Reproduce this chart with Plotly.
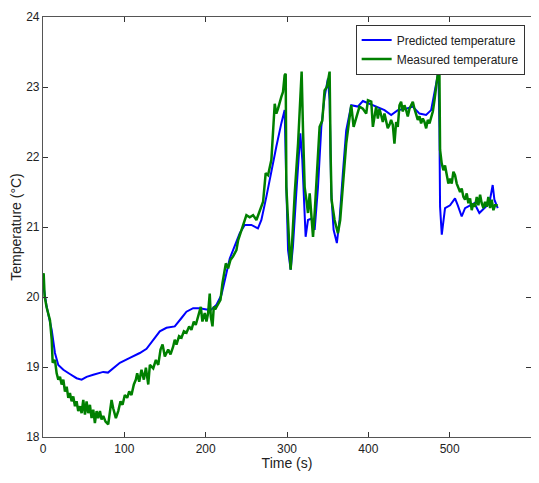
import plotly.graph_objects as go

# Predicted temperature (blue)
pred_t = [0, 2, 4.5, 10.7, 14.7, 18.8, 25, 33, 41.3, 47.5, 53.6, 61.8, 68, 74, 79.9, 86.3,
          94.5, 106.8, 119, 127.3, 135.4, 143.6, 151.8, 162, 170.3, 176.4, 184.6, 192.8,
          201, 207, 213.3, 219.4, 225.5, 229.6, 233.7, 237.8, 241.9, 248, 256.2, 264.3,
          268.5, 274.6, 280.8, 286.9, 293, 297.1, 299.2, 301.3, 304.5, 307.3, 311.4,
          316.4, 318.8, 321.7, 322.9, 325.8, 329.9, 334, 338.1, 342.2, 346.2, 350.3,
          352.4, 354.4, 357.3, 361.3, 364.6, 368.7, 372.8, 379, 387.1, 393.3, 401.5,
          409.7, 419.9, 428.1, 436.2, 446.5, 454.6, 462.9, 471, 477.2, 481.3, 484.2,
          486.2, 487.4, 488.2, 490.3, 494.3, 500.5, 506.6, 510, 514.8, 518.9, 522.2,
          530.4, 536.5, 542.7, 548.8, 552.9, 555, 559.1]
pred_T = [20.2, 20.05, 19.86, 19.53, 19.20, 19.03, 18.96, 18.90, 18.84, 18.82, 18.86,
          18.89, 18.91, 18.93, 18.92, 18.98, 19.06, 19.13, 19.20, 19.26, 19.39, 19.51,
          19.56, 19.58, 19.70, 19.79, 19.84, 19.84, 19.82, 19.82, 19.89, 20.03, 20.34,
          20.55, 20.67, 20.79, 20.91, 21.03, 21.03, 20.98, 21.10, 21.43, 21.81, 22.15,
          22.48, 22.67, 21.57, 20.67, 20.39, 20.72, 21.48, 22.34, 21.96, 21.10, 20.86,
          21.10, 21.12, 20.96, 21.57, 22.43, 22.86, 23.12, 22.81, 21.48, 20.96, 20.77,
          21.10, 21.77, 22.38, 22.74, 22.72, 22.80, 22.76, 22.72, 22.67, 22.60, 22.67,
          22.69, 22.72, 22.62, 22.60, 22.67, 22.95, 23.12, 23.22, 22.43, 21.29, 20.89,
          21.27, 21.31, 21.41, 21.31, 21.15, 21.27, 21.29, 21.34, 21.20, 21.27, 21.34,
          21.60, 21.39, 21.27]

# Measured temperature (green)
meas_t = [0, 0.8, 2, 4.5, 8.6,
          10.7, 11.9, 14.7, 16.8, 18.8, 20.9, 22.9, 25, 27, 29.1, 31.1, 33.1, 35.2, 37.2,
          39.3, 41.3, 43.3, 45.4, 47.5, 49.5, 51.6, 53.6, 55.6, 57.7, 59.7, 61.8, 63.8,
          65.9, 67.9, 70, 72, 74.1, 76.9, 80.2, 82.3, 84.3, 86.3, 89.6, 92.5, 95.3, 97.8,
          100.6, 103.5, 106, 108.8, 111.7, 114.2, 115.8, 118.3, 121.1, 124, 126.5, 129.4,
          130.5,
          131.4, 135.5, 138.8, 141.7, 144.5, 147, 149.8, 153.9, 156.8, 160, 162, 164.1,
          167.3, 170.3, 173.2, 176.4, 179.7, 182.5, 185.4, 187.8, 190.7, 194, 196, 198.9,
          201, 203, 205, 206.3, 208.4, 210, 212.5, 215.3, 218.2, 220.7, 222.3, 224.8,
          227.6, 230.5, 233.7, 237.8,
          239.9, 244, 248, 250.1, 254.2, 258.3, 262.4, 266.5, 270.6, 273.8, 276.7, 280.8,
          282.8, 284.9, 286.9, 289, 293, 295.1, 297.1, 298.4, 299.2, 301.3, 303.3, 304.5,
          306.6, 309.5, 313.6, 316.4, 318, 319.7, 321.7, 323.8, 325.8, 327.9, 329.9, 332,
          334, 336.9, 340.1, 343.4, 346.2, 349.1, 352.4, 353.6, 354.8, 358.5, 362.6,
          365.4, 368.7, 372.8, 376, 379, 381.9, 385, 389.1, 393.3, 397.4, 399.5, 403.6,
          405.6,
          409.6, 411.7, 413.7, 415.7, 417.8, 419.8, 421.9, 423.9, 426, 428, 430.1, 432.1,
          434.2, 436.2, 438.3, 440.3, 442.4, 444.4, 446.5, 448.5, 450.6, 452.6, 454.7,
          456.7, 458.8, 460.8, 462.9, 464.9, 467, 469, 471.1, 473.1, 475.2, 477.2, 479.3,
          481.3, 483.4, 484.2, 486.2, 487.4,
          488.2, 490.2, 492.3, 494.3, 496.4, 498.4, 500.5, 502.5, 504.6, 506.6, 508.7,
          510.7, 512.8, 514.8, 516.9, 518.9, 521, 523, 525.1, 527.1, 529.2, 531.2, 533.3,
          535.3, 537.4, 539.4, 541.5, 543.5, 545.6, 547.6, 549.7, 551.7, 553.8, 555.8,
          559.1]
meas_T = [20.24, 20.34, 20.01, 19.85, 19.67,
          19.39, 19.06, 19.10, 18.91, 18.82, 18.86, 18.75, 18.82, 18.65, 18.72, 18.56,
          18.63, 18.51, 18.58, 18.44, 18.51, 18.37, 18.44, 18.34, 18.53, 18.32, 18.51,
          18.34, 18.46, 18.27, 18.39, 18.20, 18.37, 18.27, 18.37, 18.25, 18.30, 18.22,
          18.18, 18.39, 18.53, 18.41, 18.27, 18.37, 18.51, 18.46, 18.60, 18.56, 18.65,
          18.60, 18.75, 18.82, 18.91, 18.79, 18.96, 18.82, 18.99, 18.75, 18.94,
          19.03, 18.98, 19.10, 19.03, 19.25, 19.32, 19.15, 19.25, 19.18, 19.29, 19.39,
          19.32, 19.44, 19.42, 19.51, 19.49, 19.58, 19.53, 19.65, 19.60, 19.72, 19.86,
          19.65, 19.77, 19.65, 19.77, 20.05, 19.72, 19.58, 19.86, 19.84, 19.91, 19.96,
          20.20, 20.34, 20.48, 20.41, 20.53, 20.58, 20.67,
          20.81, 20.96, 21.10, 21.17, 21.14, 21.17, 21.10, 21.24, 21.36, 21.77, 21.74,
          21.96, 22.29, 22.76, 22.62, 22.69, 22.86, 22.93, 23.17, 23.19, 21.57, 21.00,
          20.62, 20.39, 20.91, 21.48, 22.19, 23.00, 23.22, 22.38, 21.57, 21.39, 21.20,
          21.48, 21.15, 20.86, 21.20, 21.77, 22.43, 22.52, 22.95, 23.00, 23.22, 22.05,
          21.39, 21.10, 20.91, 21.10, 21.57, 22.19, 22.48, 22.74, 22.43, 22.57, 22.72,
          22.69, 22.62, 22.81, 22.79, 22.43,
          22.72, 22.55, 22.69, 22.60, 22.50, 22.62, 22.53, 22.41, 22.46, 22.53, 22.46,
          22.19, 22.50, 22.43, 22.74, 22.79, 22.65, 22.74, 22.67, 22.58, 22.69, 22.74,
          22.79, 22.69, 22.62, 22.53, 22.58, 22.48, 22.55, 22.50, 22.41, 22.53, 22.48,
          22.58, 22.65, 22.81, 22.98, 23.05, 23.26, 23.19,
          22.10, 21.91, 21.81, 21.88, 21.77, 21.62, 21.69, 21.62, 21.79, 21.74, 21.62,
          21.57, 21.50, 21.55, 21.43, 21.39, 21.48, 21.34, 21.41, 21.24, 21.34, 21.29,
          21.43, 21.31, 21.46, 21.34, 21.27, 21.36, 21.29, 21.43, 21.27, 21.39, 21.24,
          21.31, 21.31]

x_ticks = [0, 100, 200, 300, 400, 500, 600]
y_ticks = [18, 19, 20, 21, 22, 23, 24]

font_fam = "Liberation Sans, Arial, sans-serif"

fig = go.Figure()
fig.add_trace(go.Scatter(x=pred_t, y=pred_T, mode="lines", name="Predicted temperature",
                         line=dict(color="#0000FF", width=2)))
fig.add_trace(go.Scatter(x=meas_t, y=meas_T, mode="lines", name="Measured temperature",
                         line=dict(color="#008000", width=2.5)))

axis_common = dict(showgrid=False, zeroline=False, showline=True, linecolor="#555555",
                   linewidth=1.2, mirror="allticks", ticks="inside", ticklen=5,
                   tickcolor="#333333", automargin=False,
                   tickfont=dict(family=font_fam, size=12, color="#222222"))

fig.update_layout(
    width=531, height=475,
    margin=dict(l=35, r=7.5, t=8.7, b=45.7),
    paper_bgcolor="white", plot_bgcolor="white",
    showlegend=True,
    legend=dict(x=0.987, y=0.982, xanchor="right", yanchor="top",
                bgcolor="white", bordercolor="#333333", borderwidth=1,
                font=dict(family=font_fam, size=12, color="#222222"),
                tracegroupgap=0, itemwidth=30),
    xaxis=dict(range=[0, 600], tickvals=x_ticks, ticktext=[str(v) for v in x_ticks],
               title=dict(text="Time (s)", font=dict(family=font_fam, size=14, color="#222222"),
                          standoff=2),
               **axis_common),
    yaxis=dict(range=[18, 24], tickvals=y_ticks, ticktext=[str(v) for v in y_ticks],
               title=dict(text="Temperature (°C)", font=dict(family=font_fam, size=14, color="#222222"),
                          standoff=2),
               **axis_common),
)

fig.write_html("out.html")
